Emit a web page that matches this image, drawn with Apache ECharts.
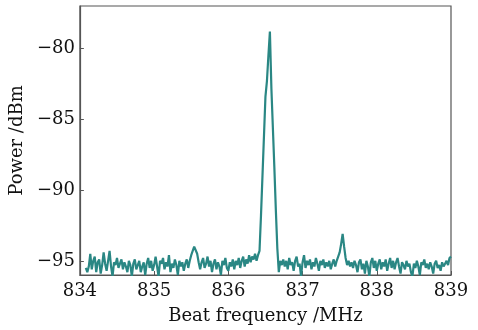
<!DOCTYPE html>
<html><head><meta charset="utf-8">
<script src="https://cdn.jsdelivr.net/npm/echarts@6/dist/echarts.min.js"></script>
<style>html,body{margin:0;padding:0;background:#fff}#c{width:478px;height:330px}</style>
</head><body><div id="c"></div>
<script>
// Sampling grid of the spectrum (MHz)
var freqStart = 834.08;
var freqStep = 0.02;
var power = [
  -95.5,-95.8,-95.4,-94.5,-95.6,-95.0,-94.7,-95.8,-95.1,-94.9, // 834.08
  -95.9,-95.3,-94.4,-95.2,-95.7,-95.0,-94.3,-95.4,-96.1,-95.1, // 834.28
  -95.3,-94.8,-95.5,-95.2,-94.9,-95.6,-95.1,-95.4,-95.8,-95.0, // 834.48
  -95.3,-96.1,-95.2,-94.9,-95.6,-95.3,-95.0,-95.8,-95.4,-95.1, // 834.68
  -96.0,-95.2,-94.8,-95.5,-95.0,-95.7,-95.3,-94.7,-95.4,-96.1, // 834.88
  -95.0,-95.2,-94.8,-95.6,-95.1,-95.4,-94.6,-95.8,-95.2,-95.5, // 835.08
  -94.9,-95.3,-96.0,-95.0,-95.4,-95.1,-95.7,-95.2,-94.9,-95.5, // 835.28
  -95.0,-94.6,-94.3,-94.0,-93.9,-94.5,-95.1,-95.6,-95.1,-94.8, // 835.48
  -95.5,-95.2,-94.7,-95.4,-95.0,-95.8,-95.2,-94.9,-95.6,-95.1, // 835.68
  -95.4,-96.0,-95.0,-95.3,-94.8,-95.5,-95.7,-95.1,-95.4,-94.9, // 835.88
  -95.6,-95.0,-95.3,-94.8,-95.5,-95.0,-94.7,-95.4,-94.9,-95.2, // 836.08
  -94.6,-95.1,-94.7,-94.9,-94.5,-95.0,-94.6,-94.3,-91.8,-89.0, // 836.28
  -86.2,-83.4,-82.3,-80.5,-78.8,-82.8,-85.6,-88.4,-91.4,-94.1, // 836.48
  -95.8,-95.0,-95.3,-94.9,-95.4,-95.0,-95.6,-94.8,-95.3,-95.1, // 836.68
  -95.7,-95.0,-94.7,-95.4,-95.2,-96.1,-95.1,-94.6,-95.5,-95.0, // 836.88
  -95.3,-94.9,-95.6,-95.1,-95.4,-94.8,-95.2,-95.7,-95.0,-95.3, // 837.08
  -94.9,-95.5,-95.1,-95.4,-95.0,-95.6,-95.2,-94.9,-95.4,-95.0, // 837.28
  -94.9,-94.4,-93.8,-93.1,-94.0,-94.8,-95.3,-95.0,-95.4,-95.1, // 837.48
  -95.5,-95.0,-95.3,-95.8,-95.1,-94.9,-95.6,-95.2,-95.9,-95.0, // 837.68
  -95.4,-96.1,-95.1,-94.8,-95.5,-95.0,-95.7,-95.2,-94.9,-95.6, // 837.88
  -95.1,-95.4,-94.9,-95.7,-95.2,-94.8,-95.5,-95.0,-95.6,-95.1, // 838.08
  -94.8,-95.4,-95.9,-95.1,-95.3,-95.6,-95.0,-95.4,-95.2,-95.8, // 838.28
  -96.1,-95.2,-95.5,-95.0,-95.4,-96.0,-95.1,-95.3,-94.9,-95.5, // 838.48
  -95.2,-95.6,-95.1,-95.4,-95.9,-95.2,-95.0,-95.5,-95.3,-95.7, // 838.68
  -95.1,-95.4,-95.2,-95.0,-95.3,-94.8,-94.7                    // 838.88
];
var xTicks = [834, 835, 836, 837, 838, 839];
var yTicks = [-95, -90, -85, -80];
var xTitle = 'Beat frequency /MHz';
var yTitle = 'Power /dBm';

var data = power.map(function (p, i) {
  return [Math.round((freqStart + i * freqStep) * 100) / 100, p];
});
var serif = '"DejaVu Serif", "Liberation Serif", serif';
var chart = echarts.init(document.getElementById('c'), null, {renderer: 'canvas'});
chart.setOption({
  backgroundColor: '#fff',
  animation: false,
  grid: {left: 77, right: 27, top: 6, bottom: 48, show: true, borderColor: '#555', borderWidth: 1.2, backgroundColor: 'transparent'},
  xAxis: {
    type: 'value', min: 834, max: 839,
    axisLine: {show: true, lineStyle: {color: '#555', width: 1.2}},
    axisTick: {show: true, inside: true, length: 4, lineStyle: {color: '#555'}, customValues: xTicks},
    axisLabel: {color: '#111', fontFamily: serif, fontSize: 18, margin: 7, customValues: xTicks},
    splitLine: {show: false},
    name: xTitle, nameLocation: 'middle', nameGap: 32,
    nameTextStyle: {color: '#111', fontFamily: serif, fontSize: 18}
  },
  yAxis: {
    type: 'value', min: -96, max: -77,
    axisLine: {show: true, lineStyle: {color: '#555', width: 1.2}},
    axisTick: {show: true, inside: true, length: 4, lineStyle: {color: '#555'}, customValues: yTicks},
    axisLabel: {color: '#111', fontFamily: serif, fontSize: 18, margin: 5, customValues: yTicks,
      formatter: function (v) { return String(v).replace('-', '\u2212'); }},
    splitLine: {show: false},
    name: yTitle, nameLocation: 'middle', nameGap: 48,
    nameTextStyle: {color: '#111', fontFamily: serif, fontSize: 18}
  },
  series: [{
    type: 'line', data: data, showSymbol: false, clip: true,
    lineStyle: {color: '#2a8784', width: 2.2}
  }]
});
</script></body></html>
